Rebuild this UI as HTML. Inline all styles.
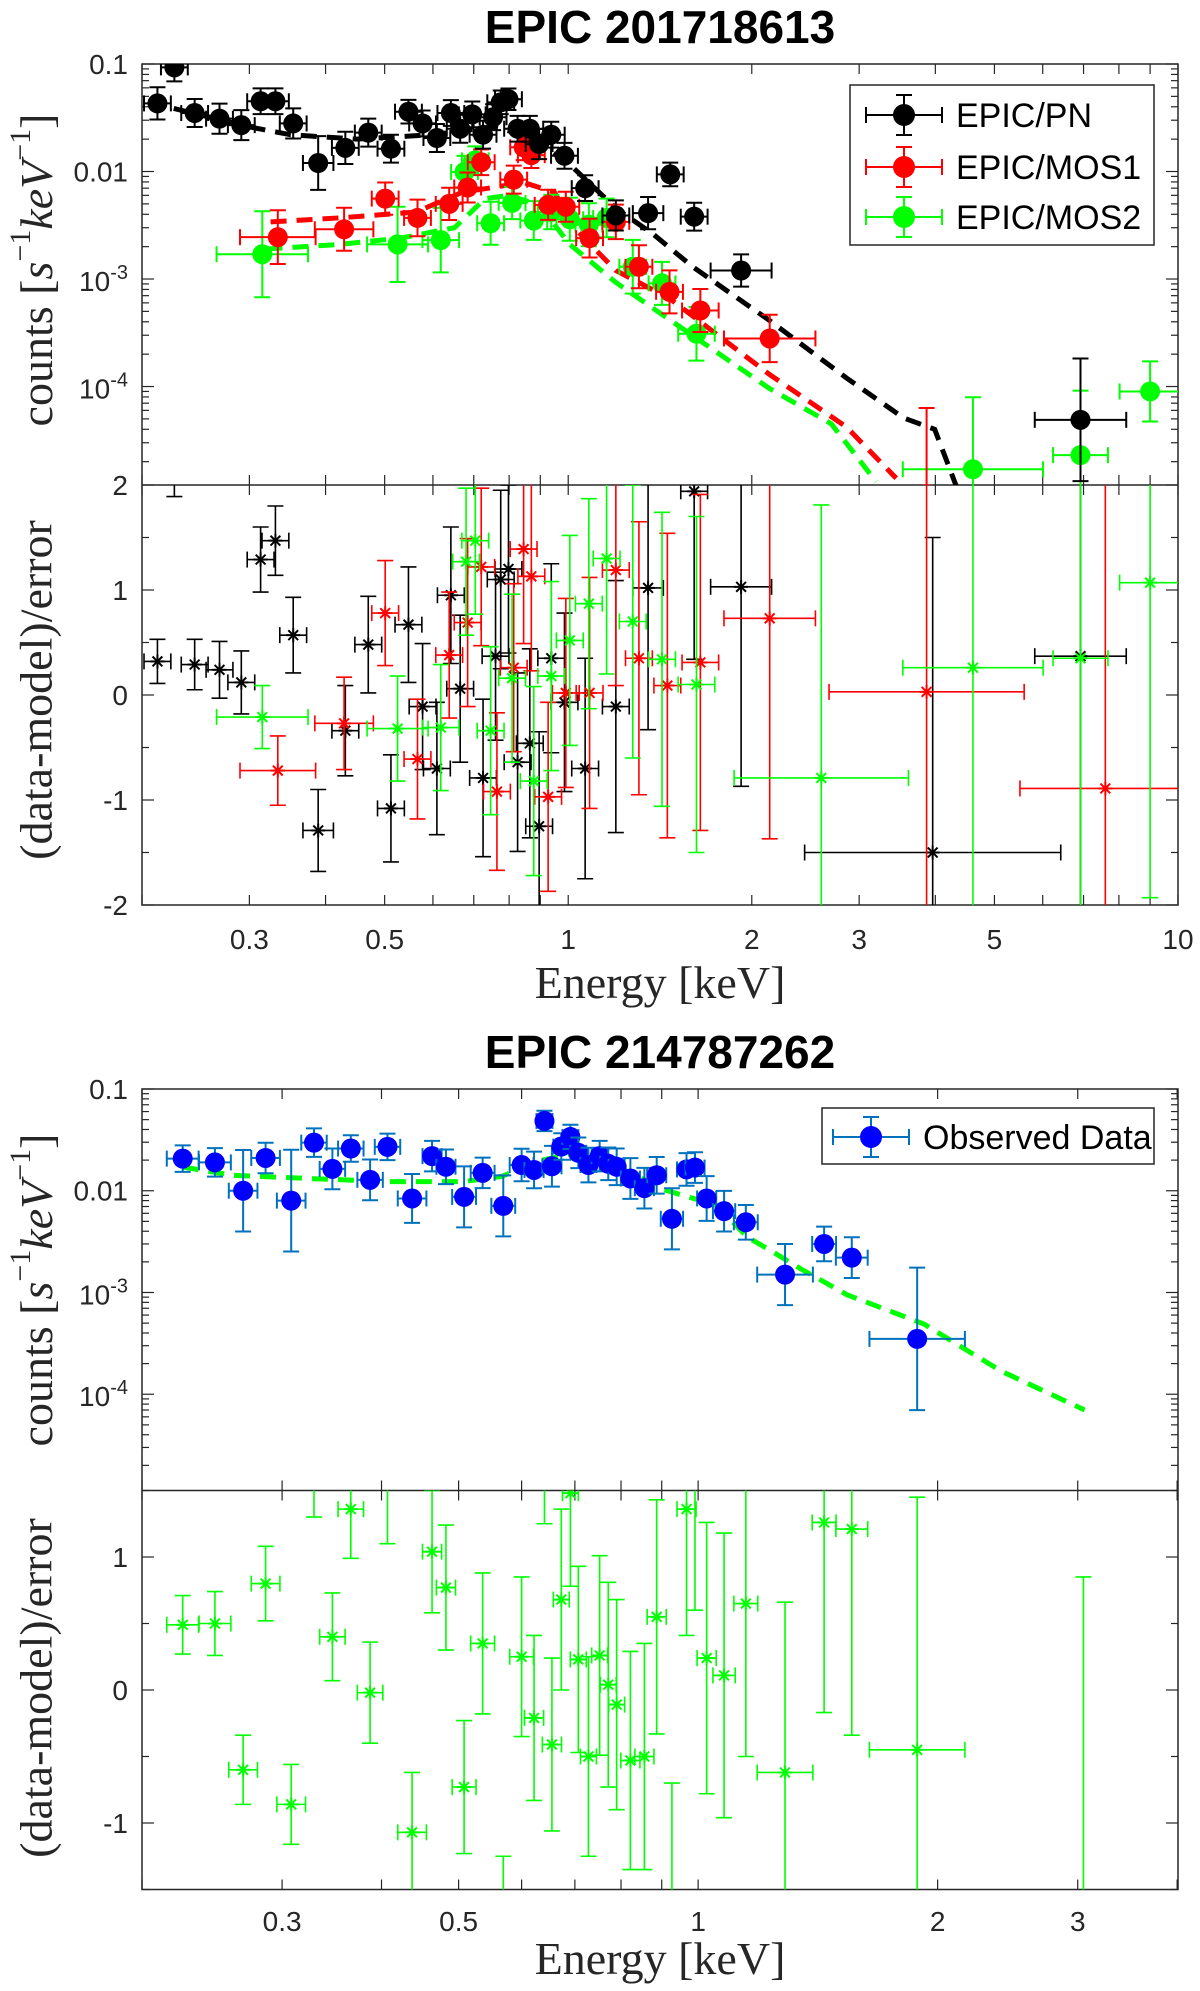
<!DOCTYPE html>
<html><head><meta charset="utf-8"><title>EPIC spectra</title>
<style>
html,body{margin:0;padding:0;background:#fff;overflow:hidden;width:1200px;height:1991px;}
svg{display:block;overflow:hidden;}
text{font-family:"Liberation Sans",sans-serif;fill:#262626;}
.title{font-weight:bold;font-size:46px;fill:#000;}
.tick{font-size:28px;}
.lab{font-family:"Liberation Serif",serif;font-size:46px;fill:#262626;}
.leg{font-size:34px;fill:#000;}
</style></head>
<body>
<svg id="fig" width="1200" height="1991" viewBox="0 0 1200 1991" xmlns="http://www.w3.org/2000/svg">
<defs>
<clipPath id="c1a"><rect x="142" y="64" width="1036" height="421"/></clipPath>
<clipPath id="c1b"><rect x="142" y="485" width="1036" height="420"/></clipPath>
<clipPath id="c2a"><rect x="142" y="1089" width="1036" height="401.5"/></clipPath>
<clipPath id="c2b"><rect x="142" y="1490.5" width="1036" height="399"/></clipPath>
</defs>
<text class="title" x="660" y="43" text-anchor="middle">EPIC 201718613</text>
<text class="title" x="660" y="1068" text-anchor="middle">EPIC 214787262</text>
<g id="root"></g>
</svg>
<script>
// ---------- Chart 1 data (EPIC 201718613) ----------
const pnE   = [0.212,0.226,0.244,0.268,0.291,0.313,0.331,0.354,0.389,0.431,0.470,0.512,0.547,0.577,0.609,0.642,0.665,0.696,0.725,0.753,0.775,0.798,0.826,0.865,0.896,0.938,0.986,1.066,1.197,1.352,1.470,1.609,1.921,6.92];
const pnY   = [0.043,0.093,0.035,0.031,0.027,0.045,0.045,0.028,0.012,0.0166,0.023,0.0163,0.036,0.028,0.0205,0.035,0.025,0.034,0.022,0.032,0.044,0.047,0.025,0.025,0.018,0.022,0.014,0.0070,0.0039,0.0041,0.0094,0.0038,0.0012,4.9e-5];
const pnYErr= [0.15,0.13,0.13,0.14,0.14,0.12,0.12,0.14,0.25,0.15,0.13,0.13,0.11,0.12,0.13,0.12,0.13,0.12,0.13,0.12,0.11,0.10,0.12,0.12,0.14,0.12,0.12,0.12,0.14,0.15,0.11,0.13,0.15,0.57];
const pnXErr= [0.022,0.022,0.022,0.022,0.022,0.022,0.022,0.022,0.025,0.022,0.022,0.022,0.022,0.022,0.022,0.022,0.022,0.022,0.022,0.022,0.022,0.022,0.022,0.022,0.022,0.022,0.022,0.022,0.022,0.025,0.022,0.022,0.05,0.075];

const m1E   = [0.334,0.429,0.501,0.566,0.638,0.684,0.72,0.814,0.845,0.870,0.927,0.991,1.084,1.197,1.306,1.466,1.647,2.14,3.87];
const m1Y   = [0.00245,0.0029,0.0056,0.0037,0.0050,0.0071,0.0122,0.0084,0.0168,0.0142,0.0049,0.0047,0.0024,0.0034,0.0013,7.6e-4,5.1e-4,2.8e-4,1.0e-5];
const m1YErr= [0.25,0.2,0.15,0.17,0.15,0.14,0.12,0.13,0.12,0.12,0.14,0.14,0.18,0.16,0.2,0.2,0.2,0.22,0.8];
const m1XErr= [0.062,0.048,0.022,0.022,0.022,0.022,0.022,0.022,0.022,0.022,0.022,0.022,0.022,0.022,0.022,0.022,0.03,0.075,0.16];

const m2E   = [0.315,0.525,0.618,0.676,0.704,0.746,0.809,0.878,0.938,1.006,1.081,1.156,1.276,1.425,1.623,4.61,6.92,9.0];
const m2Y   = [0.0017,0.0021,0.0023,0.0099,0.0127,0.0033,0.0051,0.0035,0.0042,0.0036,0.0032,0.0037,0.0013,9.1e-4,3.1e-4,1.7e-5,2.3e-5,9.0e-5];
const m2YErr= [0.4,0.35,0.3,0.15,0.13,0.2,0.15,0.18,0.16,0.2,0.2,0.18,0.25,0.2,0.25,0.67,0.6,0.28];
const m2XErr= [0.075,0.05,0.03,0.022,0.022,0.022,0.022,0.022,0.022,0.022,0.022,0.022,0.022,0.022,0.03,0.115,0.045,0.05];

const pnModE = [0.205,0.3,0.35,0.45,0.6,0.75,0.85,1.0,1.2,1.38,1.6,2.14,2.86,3.55,3.99,4.35];
const pnModY = [0.044,0.026,0.022,0.020,0.022,0.026,0.022,0.012,0.0045,0.0026,1.3e-3,4.1e-4,1.2e-4,5.1e-5,4.0e-5,1.1e-5];
const m1ModE = [0.325,0.421,0.563,0.67,0.775,0.845,0.949,1.035,1.197,1.466,2.137,2.86,3.45];
const m1ModY = [0.0034,0.0037,0.0042,0.0064,0.0073,0.0079,0.0064,0.0028,0.0012,6.6e-4,1.3e-4,4.2e-5,1.4e-5];
const m2ModE = [0.32,0.421,0.531,0.651,0.731,0.798,0.896,1.006,1.197,1.424,2.137,2.70,3.2];
const m2ModY = [0.0019,0.0021,0.0024,0.003,0.0056,0.0060,0.0049,0.0021,9.3e-4,4.7e-4,9.6e-5,4.5e-5,1.3e-5];

const pnResE   = [0.212,0.226,0.244,0.268,0.291,0.313,0.331,0.354,0.389,0.431,0.470,0.512,0.547,0.577,0.609,0.642,0.665,0.725,0.760,0.775,0.798,0.826,0.865,0.896,0.938,0.986,1.066,1.197,1.352,1.609,1.921,3.96,6.92];
const pnRes    = [0.32,2.3,0.29,0.24,0.12,1.29,1.47,0.57,-1.29,-0.34,0.48,-1.08,0.67,-0.11,-0.70,0.95,0.06,-0.79,0.37,1.1,1.2,-0.64,-0.46,-1.25,0.35,-0.07,-0.7,-0.11,1.02,1.94,1.03,-1.5,0.37];
const pnResErr = [0.21,0.41,0.24,0.27,0.3,0.31,0.33,0.36,0.39,0.43,0.46,0.51,0.55,0.6,0.63,0.65,0.7,0.75,0.8,0.85,0.8,0.85,0.9,0.9,0.9,0.85,1.05,1.2,1.35,1.6,1.9,3,3];
const pnResXErr= [0.022,0.022,0.022,0.022,0.022,0.022,0.022,0.022,0.025,0.022,0.022,0.022,0.022,0.022,0.022,0.022,0.022,0.022,0.022,0.022,0.022,0.022,0.022,0.022,0.022,0.022,0.022,0.022,0.025,0.022,0.05,0.21,0.075];

const m1ResE   = [0.334,0.429,0.501,0.566,0.638,0.684,0.72,0.764,0.814,0.845,0.870,0.927,0.991,1.084,1.197,1.306,1.454,1.647,2.14,3.87,7.6];
const m1Res    = [-0.72,-0.27,0.78,-0.61,0.38,0.69,1.22,-0.92,0.26,1.39,1.13,-0.97,0.02,0.02,1.19,0.35,0.09,0.31,0.73,0.03,-0.89];
const m1ResErr = [0.33,0.44,0.5,0.57,0.6,0.8,0.75,0.75,0.8,0.9,0.9,0.9,0.9,1.1,1.1,1.3,1.45,1.6,2.1,3,3.5];
const m1ResXErr= [0.062,0.048,0.022,0.022,0.022,0.022,0.022,0.022,0.022,0.022,0.022,0.022,0.022,0.022,0.022,0.022,0.022,0.03,0.075,0.16,0.14];

const m2ResE   = [0.315,0.525,0.618,0.680,0.704,0.746,0.809,0.878,0.938,1.006,1.081,1.156,1.276,1.425,1.623,2.6,4.61,6.92,9.0];
const m2Res    = [-0.21,-0.32,-0.31,1.27,1.47,-0.34,0.16,-0.82,0.18,0.52,0.87,1.3,0.7,0.34,0.1,-0.79,0.26,0.35,1.07];
const m2ResErr = [0.3,0.5,0.6,0.7,0.7,0.8,0.8,0.9,0.9,1.0,1.0,1.1,1.3,1.4,1.6,2.6,2.5,3,3];
const m2ResXErr= [0.075,0.05,0.03,0.022,0.022,0.022,0.022,0.022,0.022,0.022,0.022,0.022,0.022,0.022,0.03,0.143,0.115,0.045,0.05];

// ---------- Chart 2 data (EPIC 214787262) ----------
const obsE   = [0.225,0.247,0.268,0.286,0.308,0.329,0.347,0.366,0.387,0.407,0.437,0.463,0.482,0.508,0.536,0.569,0.600,0.622,0.641,0.655,0.673,0.691,0.707,0.728,0.752,0.771,0.790,0.822,0.856,0.887,0.927,0.967,0.991,1.025,1.078,1.148,1.286,1.44,1.56,1.885];
const obsY   = [0.0207,0.019,0.010,0.021,0.008,0.0297,0.0164,0.026,0.0128,0.027,0.0084,0.0219,0.0172,0.0087,0.015,0.0071,0.0179,0.016,0.0485,0.0174,0.0272,0.0338,0.0236,0.0179,0.0219,0.0184,0.0172,0.0132,0.0106,0.0142,0.0053,0.0162,0.0169,0.0084,0.0063,0.0049,0.0015,0.0030,0.0022,3.5e-4];
const obsYErr= [0.13,0.14,0.4,0.15,0.5,0.14,0.2,0.13,0.2,0.13,0.24,0.15,0.17,0.3,0.15,0.3,0.16,0.18,0.1,0.2,0.13,0.12,0.15,0.17,0.15,0.16,0.18,0.2,0.2,0.18,0.3,0.16,0.15,0.22,0.2,0.17,0.3,0.17,0.2,0.7];
const obsXErr= [0.02,0.02,0.018,0.018,0.018,0.016,0.016,0.016,0.016,0.016,0.018,0.012,0.012,0.015,0.015,0.015,0.015,0.012,0.01,0.012,0.01,0.01,0.01,0.01,0.01,0.01,0.01,0.012,0.012,0.012,0.014,0.012,0.012,0.012,0.014,0.015,0.035,0.015,0.02,0.06];

const modE = [0.225,0.26,0.325,0.405,0.506,0.566,0.633,0.691,0.756,0.826,0.903,1.055,1.153,1.232,1.347,1.539,1.922,2.4,3.06];
const modY = [0.0171,0.0142,0.0132,0.0123,0.0123,0.0138,0.0198,0.0229,0.0198,0.0148,0.0103,0.0072,0.0035,0.0026,0.0017,9.5e-4,4.9e-4,1.7e-4,7.0e-5];

const resE    = [0.225,0.247,0.268,0.286,0.308,0.329,0.347,0.366,0.387,0.407,0.437,0.463,0.482,0.508,0.536,0.569,0.600,0.622,0.641,0.655,0.673,0.691,0.707,0.728,0.752,0.771,0.790,0.822,0.856,0.887,0.927,0.967,0.991,1.025,1.078,1.148,1.286,1.44,1.56,1.885,3.05];
const resVal  = [0.49,0.50,-0.60,0.80,-0.86,1.6,0.40,1.36,-0.02,1.6,-1.07,1.04,0.77,-0.73,0.35,-1.8,0.25,-0.21,1.9,-0.41,0.68,1.48,0.23,-0.5,0.26,0.04,-0.11,-0.53,-0.5,0.55,-1.6,1.36,1.6,0.24,0.11,0.65,-0.62,1.26,1.21,-0.45,-1.9];
const resErr  = [0.22,0.24,0.26,0.28,0.3,0.3,0.33,0.37,0.38,0.5,0.45,0.46,0.47,0.5,0.53,0.55,0.6,0.62,0.65,0.65,0.68,0.7,0.7,0.75,0.75,0.77,0.79,0.82,0.85,0.88,0.9,0.95,1.0,1.02,1.07,1.15,1.28,1.43,1.55,1.9,2.75];
const resXErr = [0.02,0.02,0.018,0.018,0.018,0.016,0.016,0.016,0.016,0.016,0.018,0.012,0.012,0.015,0.015,0.015,0.015,0.012,0.01,0.012,0.01,0.01,0.01,0.01,0.01,0.01,0.01,0.012,0.012,0.012,0.014,0.012,0.012,0.012,0.014,0.015,0.035,0.015,0.02,0.06,0.0];

// ---------- tick data ----------
const xTicks1 = [0.3,0.5,1,2,3,5,10];
const xTickLabels1 = ["0.3","0.5","1","2","3","5","10"];
const xTicks2 = [0.3,0.5,1,2,3];
const xTickLabels2 = ["0.3","0.5","1","2","3"];
const res1Ticks = [-2,-1,0,1,2];
const res2Ticks = [-1,0,1];

// ---------- drawing ----------
const NS="http://www.w3.org/2000/svg";
const root=document.getElementById('root');
function mk(tag,attrs,parent){const e=document.createElementNS(NS,tag);for(const k in attrs)e.setAttribute(k,attrs[k]);(parent||root).appendChild(e);return e;}
const L=Math.log10;
const P1={x0:142,x1:1178,lx0:L(0.2),lx1:1,ta:64,tb:485,ly0:-4.916,ly1:-1,rb:905,r0:-2,r1:2,ca:'c1a',cb:'c1b'};
const P2={x0:142,x1:1178,lx0:L(0.2),lx1:L(4.01),ta:1089,tb:1490.5,ly0:-4.946,ly1:-1,rb:1889.5,r0:-1.5,r1:1.5,ca:'c2a',cb:'c2b'};
function sx(P,E){return P.x0+(L(E)-P.lx0)/(P.lx1-P.lx0)*(P.x1-P.x0);}
function sxl(P,l){return P.x0+(l-P.lx0)/(P.lx1-P.lx0)*(P.x1-P.x0);}
function syl(P,lv){return P.tb-(lv-P.ly0)/(P.ly1-P.ly0)*(P.tb-P.ta);}
function sy(P,v){return syl(P,L(v));}
function sr(P,r){return P.rb-(r-P.r0)/(P.r1-P.r0)*(P.rb-P.tb);}
function cl(v,a,b){return Math.max(a,Math.min(b,v));}

function drawAxes(P,xt,xl,rt,labY,pref){
  const g=mk('g',{});
  
  
  const fr=mk('rect',{x:P.x0,y:P.ta,width:P.x1-P.x0,height:P.rb-P.ta,fill:'none',stroke:'#262626','stroke-width':1.5},g);
  
  
  const dv=mk('line',{x1:P.x0,x2:P.x1,y1:P.tb,y2:P.tb,stroke:'#262626','stroke-width':1.5},g);
  
  
  for(let d=-1;d<=1;d++){for(let m=1;m<=9;m++){const E=m*Math.pow(10,d);const lx=L(E);if(lx<P.lx0-1e-9||lx>P.lx1+1e-9)continue;const x=sx(P,E);
    [P.ta,P.tb,P.rb].forEach(y0=>{const dir=(y0===P.ta)?1:-1;mk('line',{x1:x,x2:x,y1:y0,y2:y0+dir*10,stroke:'#262626','stroke-width':1.2},g);if(y0===P.tb)mk('line',{x1:x,x2:x,y1:y0,y2:y0+10,stroke:'#262626','stroke-width':1.2},g);});}}
  xt.forEach((E,i)=>{const t=mk('text',{x:sx(P,E),y:labY,'text-anchor':'middle',class:'tick'},g);t.textContent=xl[i];
    
    });
  for(let e=-5;e<=-1;e++){for(let m=1;m<=9;m++){const lv=L(m)+e;if(lv<P.ly0||lv>P.ly1+1e-9)continue;const y=syl(P,lv);const len=(m===1)?12:7;
    mk('line',{x1:P.x0,x2:P.x0+len,y1:y,y2:y,stroke:'#262626','stroke-width':1.2},g);mk('line',{x1:P.x1,x2:P.x1-len,y1:y,y2:y,stroke:'#262626','stroke-width':1.2},g);}
    const yy=syl(P,e);
    if(e>=-2){const t=mk('text',{x:128,y:yy+10,'text-anchor':'end',class:'tick'},g);t.textContent=(e===-1?'0.1':'0.01');
      
      }
    else if(e>=-4){const t=mk('text',{x:128,y:yy+12,'text-anchor':'end',class:'tick'},g);
      const a=mk('tspan',{},t);a.textContent='10';const b=mk('tspan',{dy:-12,'font-size':20},t);b.textContent=String(e);
      
      }}
  for(let r=P.r0;r<=P.r1+1e-9;r+=0.5){const y=sr(P,r);const maj=Math.abs(r-Math.round(r))<1e-9;const len=maj?12:7;
    mk('line',{x1:P.x0,x2:P.x0+len,y1:y,y2:y,stroke:'#262626','stroke-width':1.2},g);mk('line',{x1:P.x1,x2:P.x1-len,y1:y,y2:y,stroke:'#262626','stroke-width':1.2},g);}
  rt.forEach(r=>{const t=mk('text',{x:128,y:sr(P,r)+10,'text-anchor':'end',class:'tick'},g);t.textContent=String(r);
    
    });
}
function ylab(cx,cy,kind,pref){
  const t=mk('text',{class:'lab',transform:`translate(${cx},${cy}) rotate(-90)`,'text-anchor':'middle','dominant-baseline':'central'});
  if(kind==='counts'){
    const a=mk('tspan',{},t);a.textContent='counts  [';
    const b=mk('tspan',{'font-style':'italic'},t);b.textContent='s';
    const c=mk('tspan',{dy:-16,'font-size':30},t);c.textContent='−1';
    const d=mk('tspan',{dy:16,'font-style':'italic'},t);d.textContent='keV';
    const e=mk('tspan',{dy:-16,'font-size':30},t);e.textContent='−1';
    const f=mk('tspan',{dy:16},t);f.textContent=']';
    
  } else {t.textContent='(data-model)/error';
    }
  
}
// B = bounds {x0,x1,y0,y1}; everything is clamped to the panel
function errPoint(g,x,y,xl,xr,yt,yb,col,cap,sw,B){
  if(x<B.x0||x>B.x1)return;
  const t=cl(yt,B.y0,B.y1),b=cl(yb,B.y0,B.y1);
  if(b>t)mk('line',{x1:x,x2:x,y1:t,y2:b,stroke:col,'stroke-width':sw},g);
  if(yt>=B.y0&&yt<=B.y1)mk('line',{x1:cl(x-cap,B.x0,B.x1),x2:cl(x+cap,B.x0,B.x1),y1:yt,y2:yt,stroke:col,'stroke-width':sw},g);
  if(yb>=B.y0&&yb<=B.y1)mk('line',{x1:cl(x-cap,B.x0,B.x1),x2:cl(x+cap,B.x0,B.x1),y1:yb,y2:yb,stroke:col,'stroke-width':sw},g);
  if(xr-xl>1&&y>=B.y0&&y<=B.y1){
    const l=cl(xl,B.x0,B.x1),r=cl(xr,B.x0,B.x1);
    mk('line',{x1:l,x2:r,y1:y,y2:y,stroke:col,'stroke-width':sw},g);
    const c0=cl(y-cap,B.y0,B.y1),c1=cl(y+cap,B.y0,B.y1);
    if(xl>=B.x0)mk('line',{x1:xl,x2:xl,y1:c0,y2:c1,stroke:col,'stroke-width':sw},g);
    if(xr<=B.x1)mk('line',{x1:xr,x2:xr,y1:c0,y2:c1,stroke:col,'stroke-width':sw},g);}
}
function spectrum(P,E,Y,YE,XE,col,barCol,name){
  const g=mk('g',{'clip-path':`url(#${P.ca})`});
  
  
  const B={x0:P.x0,x1:P.x1,y0:P.ta,y1:P.tb};
  E.forEach((e,i)=>{const x=sx(P,e),y=sy(P,Y[i]);const lv=L(Y[i]);
    errPoint(g,x,y,sxl(P,L(e)-XE[i]),sxl(P,L(e)+XE[i]),syl(P,lv+YE[i]),syl(P,lv-YE[i]),barCol,8,2,B);
    if(y<B.y0-10||y>B.y1+10)return;
    const c=mk('circle',{cx:x,cy:y,r:10,fill:col},g);
    
    });
}
function model(P,E,Y,col,name){
  const d=E.map((e,i)=>(i?'L':'M')+sx(P,e).toFixed(1)+','+sy(P,Y[i]).toFixed(1)).join(' ');
  const p=mk('path',{d:d,fill:'none',stroke:col,'stroke-width':5,'stroke-dasharray':'16,10','clip-path':`url(#${P.ca})`});
  
  
}
function residuals(P,E,R,RE,XE,col,name){
  const g=mk('g',{'clip-path':`url(#${P.cb})`});
  
  
  const B={x0:P.x0,x1:P.x1,y0:P.tb,y1:P.rb};
  E.forEach((e,i)=>{const x=sx(P,e),y=sr(P,R[i]);
    errPoint(g,x,y,sxl(P,L(e)-XE[i]),sxl(P,L(e)+XE[i]),sr(P,R[i]+RE[i]),sr(P,R[i]-RE[i]),col,8,1.6,B);
    if(y<B.y0||y>B.y1)return;
    const s=7;const m=mk('g',{},g);
    
    
    mk('line',{x1:x-s,x2:x+s,y1:y,y2:y,stroke:col,'stroke-width':2},m);
    mk('line',{x1:x,x2:x,y1:y-s,y2:y+s,stroke:col,'stroke-width':2},m);
    mk('line',{x1:x-s*0.7,x2:x+s*0.7,y1:y-s*0.7,y2:y+s*0.7,stroke:col,'stroke-width':2},m);
    mk('line',{x1:x-s*0.7,x2:x+s*0.7,y1:y+s*0.7,y2:y-s*0.7,stroke:col,'stroke-width':2},m);});
}
function legendEntry(g,mx,ty,col,barCol,label,tx,name){
  const e=mk('g',{},g);
  
  
  errPoint(e,mx,ty,mx-38,mx+38,ty-20,ty+20,barCol,8,2,{x0:0,x1:1200,y0:0,y1:1991});
  mk('circle',{cx:mx,cy:ty,r:11,fill:col},e);
  const t=mk('text',{x:tx,y:ty+12,class:'leg'},e);t.textContent=label;
}

// Chart 1
drawAxes(P1,xTicks1,xTickLabels1,res1Ticks,949,'chart1');
model(P1,m2ModE,m2ModY,'#00ff00','chart1-mos2-model');
model(P1,m1ModE,m1ModY,'#ff0000','chart1-mos1-model');
model(P1,pnModE,pnModY,'#000000','chart1-pn-model');
spectrum(P1,m2E,m2Y,m2YErr,m2XErr,'#00ff00','#00ff00','chart1-mos2-series');
spectrum(P1,m1E,m1Y,m1YErr,m1XErr,'#ff0000','#ff0000','chart1-mos1-series');
spectrum(P1,pnE,pnY,pnYErr,pnXErr,'#000000','#000000','chart1-pn-series');
residuals(P1,pnResE,pnRes,pnResErr,pnResXErr,'#000000','chart1-pn-residuals');
residuals(P1,m1ResE,m1Res,m1ResErr,m1ResXErr,'#ff0000','chart1-mos1-residuals');
residuals(P1,m2ResE,m2Res,m2ResErr,m2ResXErr,'#00ff00','chart1-mos2-residuals');
const lg1=mk('g',{});


mk('rect',{x:850,y:85,width:304,height:160,fill:'#fff',stroke:'#262626','stroke-width':1.5},lg1);
legendEntry(lg1,904,115,'#000','#000','EPIC/PN',956,'legend-entry-pn');
legendEntry(lg1,904,167,'#ff0000','#ff0000','EPIC/MOS1',956,'legend-entry-mos1');
legendEntry(lg1,904,217,'#00ff00','#00ff00','EPIC/MOS2',956,'legend-entry-mos2');
ylab(36,270,'counts','chart1');
ylab(36,690,'res','chart1');
const xl1=mk('text',{class:'lab',x:660,y:998,'text-anchor':'middle'});xl1.textContent='Energy [keV]';



// Chart 2
drawAxes(P2,xTicks2,xTickLabels2,res2Ticks,1931,'chart2');
model(P2,modE,modY,'#00ff00','chart2-model');
spectrum(P2,obsE,obsY,obsYErr,obsXErr,'#0000ff','#0072BD','chart2-observed-series');
residuals(P2,resE,resVal,resErr,resXErr,'#00ff00','chart2-residuals');
const lg2=mk('g',{});


mk('rect',{x:822,y:1108,width:332,height:56,fill:'#fff',stroke:'#262626','stroke-width':1.5},lg2);
legendEntry(lg2,871,1137,'#0000ff','#0072BD','Observed Data',923,'legend-entry-observed-data');
ylab(36,1290,'counts','chart2');
ylab(36,1688,'res','chart2');
const xl2=mk('text',{class:'lab',x:660,y:1974,'text-anchor':'middle'});xl2.textContent='Energy [keV]';


</script>
</body></html>
